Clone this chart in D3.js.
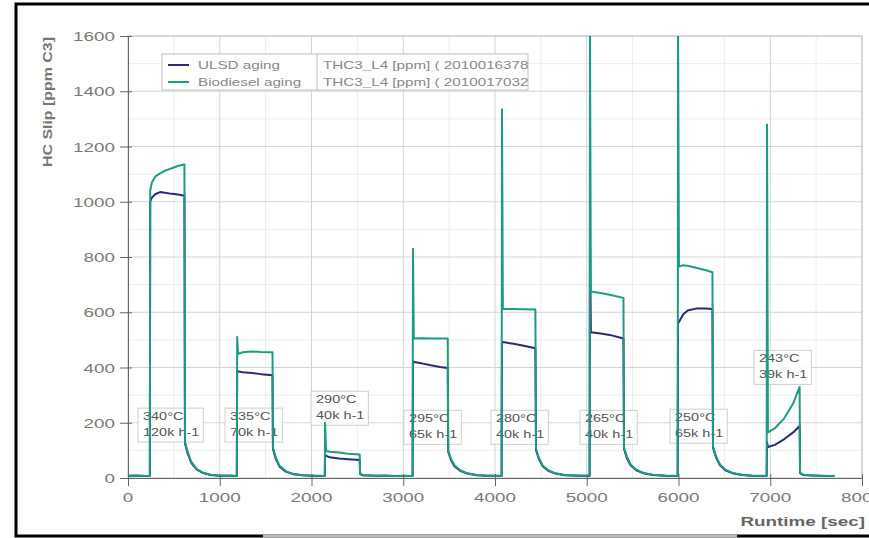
<!DOCTYPE html>
<html>
<head>
<meta charset="utf-8">
<title>HC Slip</title>
<script src="https://d3js.org/d3.v7.min.js"></script>
<style>
body { margin: 0; background: #fff; }
text { font-family: "Liberation Sans", Arial, sans-serif; }
</style>
</head>
<body>
<svg width="869" height="538"></svg>
<script>
// data (runtime in sec, HC slip in ppm C3)
var runtime = [0, 100, 200, 238, 242, 260, 300, 350, 400, 450, 500, 560, 615, 621, 650, 690, 750, 820, 900, 1000, 1100, 1186,
    1190, 1200, 1250, 1350, 1450, 1575, 1580, 1610, 1650, 1720, 1800, 1900, 2000, 2100, 2145,
    2148, 2160, 2200, 2300, 2400, 2525, 2530, 2560, 2700, 2800, 2900, 3000, 3102,
    3106, 3115, 3200, 3300, 3400, 3485, 3490, 3520, 3560, 3620, 3700, 3800, 3900, 4000, 4072,
    4076, 4086, 4200, 4300, 4440, 4447, 4480, 4520, 4580, 4660, 4760, 4900, 5031,
    5035, 5045, 5150, 5250, 5400, 5406, 5440, 5480, 5540, 5620, 5720, 5850, 5991,
    5995, 6005, 6050, 6100, 6200, 6300, 6370, 6376, 6410, 6450, 6510, 6590, 6690, 6800, 6961,
    6965, 6975, 7050, 7150, 7250, 7320, 7325, 7360, 7450, 7550, 7650, 7700];
var ulsd = [8, 8, 7, 8, 1000, 1015, 1028, 1035, 1033, 1030, 1028, 1025, 1022, 125, 90, 55, 30, 18, 11, 8, 8, 7,
    390, 386, 383, 380, 376, 372, 105, 70, 42, 23, 14, 10, 8, 7, 7,
    85, 80, 75, 71, 68, 65, 14, 10, 8, 8, 7, 7, 7,
    425, 420, 415, 408, 402, 398, 95, 65, 42, 26, 16, 10, 8, 8, 7,
    495, 492, 486, 480, 470, 100, 68, 43, 26, 16, 10, 8, 7,
    860, 528, 523, 518, 505, 105, 70, 45, 28, 17, 11, 8, 7,
    560, 565, 592, 606, 614, 614, 612, 110, 74, 47, 28, 17, 11, 8, 7,
    130, 112, 120, 140, 165, 188, 18, 11, 9, 8, 7, 7];
var biodiesel = [8, 9, 7, 8, 1040, 1070, 1092, 1103, 1112, 1118, 1124, 1131, 1135, 130, 95, 58, 32, 19, 12, 8, 9, 7,
    510, 450, 455, 458, 456, 455, 110, 75, 45, 25, 15, 10, 9, 8, 7,
    200, 98, 95, 92, 88, 85, 15, 10, 8, 9, 7, 8, 7,
    830, 505, 506, 505, 505, 505, 100, 70, 45, 28, 17, 11, 9, 8, 7,
    1335, 612, 612, 611, 610, 105, 72, 45, 28, 17, 11, 9, 8,
    1650, 675, 670, 663, 652, 110, 75, 48, 30, 18, 12, 9, 8,
    1650, 765, 770, 768, 760, 752, 745, 115, 78, 50, 30, 18, 12, 9, 8,
    1280, 165, 180, 215, 270, 330, 20, 12, 10, 8, 7, 8];

var seriesNames = ["ULSD aging", "Biodiesel aging"];
var seriesIds = ["THC3_L4 [ppm] ( 2010016378", "THC3_L4 [ppm] ( 2010017032"];
var seriesColors = ["#2b2b70", "#1d9b86"];

var xTicks = [0, 1000, 2000, 3000, 4000, 5000, 6000, 7000, 8000];
var yTicks = [0, 200, 400, 600, 800, 1000, 1200, 1400, 1600];

// test conditions and where their label boxes sit (runtime, ppm of top-left corner)
var condTemp = ["340°C", "335°C", "290°C", "295°C", "280°C", "265°C", "250°C", "243°C"];
var condSV = ["120k h-1", "70k h-1", "40k h-1", "65k h-1", "40k h-1", "40k h-1", "65k h-1", "39k h-1"];
var condAt = [[109, 253], [1057, 253], [1995, 314], [3008, 245], [3956, 245], [4926, 245], [5907, 249], [6823, 462]];

var SX = 1.45; // text in the picture is stretched horizontally

var svg = d3.select("svg");
var x = d3.scaleLinear().domain([0, 8000]).range([128, 862]);
var y = d3.scaleLinear().domain([0, 1600]).range([478, 36]);

function stext(g, px, py, str, anchor, size, color, weight) {
    return g.append("text")
        .attr("transform", "translate(" + px + "," + py + ") scale(" + SX + ",1)")
        .attr("text-anchor", anchor)
        .attr("font-size", size)
        .attr("fill", color)
        .attr("font-weight", weight || "normal")
        .text(str);
}

// grid
var grid = svg.append("g");
grid.selectAll(".ymin").data(d3.range(100, 1600, 200)).enter().append("line")
    .attr("x1", x(0)).attr("x2", x(8000))
    .attr("y1", function (d) { return y(d); }).attr("y2", function (d) { return y(d); })
    .attr("stroke", "#ececec");
grid.selectAll(".xmin").data(d3.range(500, 8000, 1000)).enter().append("line")
    .attr("y1", y(0)).attr("y2", y(1600))
    .attr("x1", function (d) { return x(d); }).attr("x2", function (d) { return x(d); })
    .attr("stroke", "#ececec");
grid.selectAll(".ymaj").data(yTicks.slice(1)).enter().append("line")
    .attr("x1", x(0)).attr("x2", x(8000))
    .attr("y1", function (d) { return y(d); }).attr("y2", function (d) { return y(d); })
    .attr("stroke", "#d4d4d4");
grid.selectAll(".xmaj").data(xTicks.slice(1)).enter().append("line")
    .attr("y1", y(0)).attr("y2", y(1600))
    .attr("x1", function (d) { return x(d); }).attr("x2", function (d) { return x(d); })
    .attr("stroke", "#d4d4d4");
svg.append("rect")
    .attr("x", x(0)).attr("y", y(1600))
    .attr("width", x(8000) - x(0)).attr("height", y(0) - y(1600))
    .attr("fill", "none").attr("stroke", "#c4c4c4");

// condition label boxes
var notes = svg.append("g");
condTemp.forEach(function (t, i) {
    var bx = x(condAt[i][0]), by = y(condAt[i][1]);
    var box = notes.append("rect");
    var t1 = stext(notes, bx + 5, by + 12, t, "start", 10, "#555");
    var t2 = stext(notes, bx + 5, by + 28, condSV[i], "start", 10, "#555");
    var w = Math.max(t1.node().getComputedTextLength(), t2.node().getComputedTextLength()) * SX + 9;
    box.attr("x", bx).attr("y", by).attr("width", w).attr("height", 34)
        .attr("fill", "#fff").attr("fill-opacity", 0.85)
        .attr("stroke", "#cfcfcf");
});

// lines
svg.append("clipPath").attr("id", "plot")
    .append("rect").attr("x", x(0)).attr("y", y(1600))
    .attr("width", x(8000) - x(0)).attr("height", y(0) - y(1600));

var line = d3.line()
    .x(function (d) { return x(d[0]); })
    .y(function (d) { return y(d[1]); });

[ulsd, biodiesel].forEach(function (vals, k) {
    svg.append("path")
        .datum(runtime.map(function (t, i) { return [t, vals[i]]; }))
        .attr("clip-path", "url(#plot)")
        .attr("fill", "none")
        .attr("stroke", seriesColors[k])
        .attr("stroke-width", 2)
        .attr("stroke-linejoin", "round")
        .attr("d", line);
});

// axes
var yAxis = svg.append("g").attr("transform", "translate(" + x(0) + ",0)")
    .call(d3.axisLeft(y).tickValues(d3.range(0, 1601, 50)).tickSize(3).tickFormat(""));
yAxis.call(d3.axisLeft(y).tickValues(yTicks).tickSize(8).tickFormat(""));
yAxis.selectAll("line").attr("x1", 4);
yAxis.selectAll("path, line").attr("stroke", "#666");

var xAxis = svg.append("g").attr("transform", "translate(0," + y(0) + ")")
    .call(d3.axisBottom(x).tickValues(d3.range(500, 8000, 1000)).tickSize(4).tickFormat(""));
xAxis.call(d3.axisBottom(x).tickValues(xTicks).tickSize(8).tickFormat(""));
xAxis.selectAll("line").attr("y1", -4);
xAxis.selectAll("path, line").attr("stroke", "#666");

var labels = svg.append("g");
yTicks.forEach(function (v) {
    stext(labels, 115, y(v) + 5, v, "end", 13, "#7a7a7a");
});
xTicks.forEach(function (v) {
    stext(labels, x(v), 502, v, "middle", 13, "#7a7a7a");
});
stext(labels, 865, 526, "Runtime [sec]", "end", 13, "#666", "bold");

svg.append("text")
    .attr("transform", "translate(52,102) rotate(-90)")
    .attr("text-anchor", "middle")
    .attr("font-size", 13)
    .attr("font-weight", "bold")
    .attr("fill", "#777")
    .attr("textLength", 130)
    .attr("lengthAdjust", "spacingAndGlyphs")
    .text("HC Slip [ppm C3]");

// legend
var lg = svg.append("g");
lg.append("rect").attr("x", 162).attr("y", 54).attr("width", 366).attr("height", 36)
    .attr("fill", "#fff").attr("stroke", "#bdbdbd");
lg.append("line").attr("x1", 317).attr("x2", 317).attr("y1", 54).attr("y2", 90).attr("stroke", "#bdbdbd");
seriesNames.forEach(function (n, i) {
    var ly = 65 + i * 17;
    lg.append("line").attr("x1", 168).attr("x2", 189).attr("y1", ly).attr("y2", ly)
        .attr("stroke", seriesColors[i]).attr("stroke-width", 2);
    stext(lg, 198, ly + 4, n, "start", 10.5, "#888");
    stext(lg, 323, ly + 4, seriesIds[i], "start", 10.5, "#888");
});

// outer frame
svg.append("rect").attr("x", 16).attr("y", 4).attr("width", 880).attr("height", 532)
    .attr("fill", "none").attr("stroke", "#000").attr("stroke-width", 3);
svg.append("line").attr("x1", 263).attr("x2", 737).attr("y1", 536).attr("y2", 536)
    .attr("stroke", "#bbb").attr("stroke-width", 3);
</script>
</body>
</html>
